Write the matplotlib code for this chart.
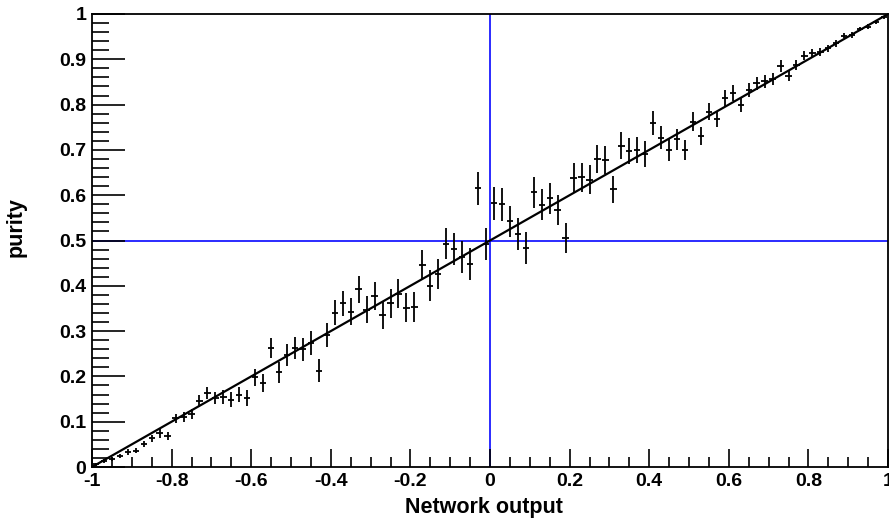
import numpy as np
import matplotlib
matplotlib.use('Agg')
import matplotlib.pyplot as plt
from matplotlib.ticker import MultipleLocator

plt.rcParams['font.family'] = ['Liberation Sans', 'DejaVu Sans']
plt.rcParams['font.weight'] = 'bold'

# bin centres of the network output histogram
net_out = [round(-0.99 + 0.02 * i, 2) for i in range(100)]

# purity per bin
purity = [0.006, 0.013, 0.018, 0.024, 0.033, 0.036, 0.051, 0.063, 0.074, 0.068,
          0.108, 0.110, 0.117, 0.146, 0.163, 0.152, 0.155, 0.149, 0.160, 0.152,
          0.198, 0.186, 0.263, 0.209, 0.247, 0.263, 0.260, 0.274, 0.213, 0.291,
          0.341, 0.361, 0.343, 0.392, 0.347, 0.378, 0.336, 0.361, 0.382, 0.352,
          0.354, 0.446, 0.400, 0.426, 0.493, 0.481, 0.464, 0.448, 0.615, 0.492,
          0.582, 0.580, 0.542, 0.514, 0.484, 0.606, 0.579, 0.593, 0.567, 0.505,
          0.637, 0.640, 0.634, 0.679, 0.678, 0.613, 0.709, 0.698, 0.700, 0.691,
          0.759, 0.727, 0.700, 0.723, 0.700, 0.762, 0.731, 0.784, 0.768, 0.815,
          0.826, 0.799, 0.832, 0.847, 0.851, 0.856, 0.885, 0.864, 0.887, 0.908,
          0.913, 0.917, 0.924, 0.935, 0.952, 0.954, 0.967, 0.972, 0.983, 0.993]

# vertical error per bin
purity_err = [0.003, 0.004, 0.005, 0.005, 0.006, 0.006, 0.007, 0.008, 0.009, 0.009,
              0.010, 0.011, 0.012, 0.013, 0.013, 0.014, 0.015, 0.016, 0.016, 0.017,
              0.019, 0.020, 0.022, 0.023, 0.024, 0.025, 0.025, 0.026, 0.026, 0.027,
              0.028, 0.028, 0.029, 0.030, 0.030, 0.031, 0.031, 0.032, 0.032, 0.033,
              0.033, 0.033, 0.034, 0.034, 0.034, 0.035, 0.035, 0.035, 0.036, 0.036,
              0.036, 0.036, 0.035, 0.035, 0.035, 0.034, 0.034, 0.034, 0.033, 0.033,
              0.033, 0.032, 0.032, 0.031, 0.031, 0.030, 0.030, 0.029, 0.028, 0.028,
              0.026, 0.025, 0.024, 0.023, 0.022, 0.021, 0.020, 0.019, 0.018, 0.017,
              0.017, 0.016, 0.016, 0.015, 0.014, 0.013, 0.013, 0.012, 0.011, 0.010,
              0.009, 0.009, 0.008, 0.007, 0.006, 0.006, 0.005, 0.005, 0.004, 0.003]

# diagonal reference line
diag_x = [-1, 1]
diag_y = [0, 1]

xticks = [-1, -0.8, -0.6, -0.4, -0.2, 0, 0.2, 0.4, 0.6, 0.8, 1]
xticklabels = ['-1', '-0.8', '-0.6', '-0.4', '-0.2', '0', '0.2', '0.4', '0.6', '0.8', '1']
yticks = [0, 0.1, 0.2, 0.3, 0.4, 0.5, 0.6, 0.7, 0.8, 0.9, 1]
yticklabels = ['0', '0.1', '0.2', '0.3', '0.4', '0.5', '0.6', '0.7', '0.8', '0.9', '1']

fig = plt.figure(figsize=(8.89, 5.2), dpi=100)
ax = fig.add_axes([92/889, 1 - 467/520, (888 - 92)/889, (467 - 14)/520])

ax.axvline(0, color='#1a1aff', lw=1.3, zorder=1)
ax.axhline(0.5, color='#1a1aff', lw=1.3, zorder=1)

ax.plot(diag_x, diag_y, color='black', lw=1.6, zorder=2)
ax.errorbar(net_out, purity, yerr=purity_err, xerr=0.008, fmt='none',
            ecolor='black', elinewidth=1.3, capsize=0, zorder=3)

ax.set_xlim(-1, 1)
ax.set_ylim(0, 1)

ax.set_xticks(xticks)
ax.set_xticklabels(xticklabels, fontweight='bold')
ax.set_yticks(yticks)
ax.set_yticklabels(yticklabels, fontweight='bold')
ax.xaxis.set_minor_locator(MultipleLocator(0.05))
ax.yaxis.set_minor_locator(MultipleLocator(0.02))

ax.tick_params(axis='x', which='major', direction='in', length=13, width=1.2, pad=4, labelsize=14)
ax.tick_params(axis='x', which='minor', direction='in', length=7, width=1.2)
ax.tick_params(axis='y', which='major', direction='in', length=24, width=1.2, pad=4, labelsize=14)
ax.tick_params(axis='y', which='minor', direction='in', length=12, width=1.2)

for s in ax.spines.values():
    s.set_linewidth(1.3)

ax.set_xlabel('Network output', fontsize=15.5, fontweight='bold')
ax.xaxis.set_label_coords(0.4925, -0.066)
ax.set_ylabel('purity', fontsize=15.5, fontweight='bold')
ax.yaxis.set_label_coords(-0.082, 0.53)

fig.savefig('out.png', dpi=100)
